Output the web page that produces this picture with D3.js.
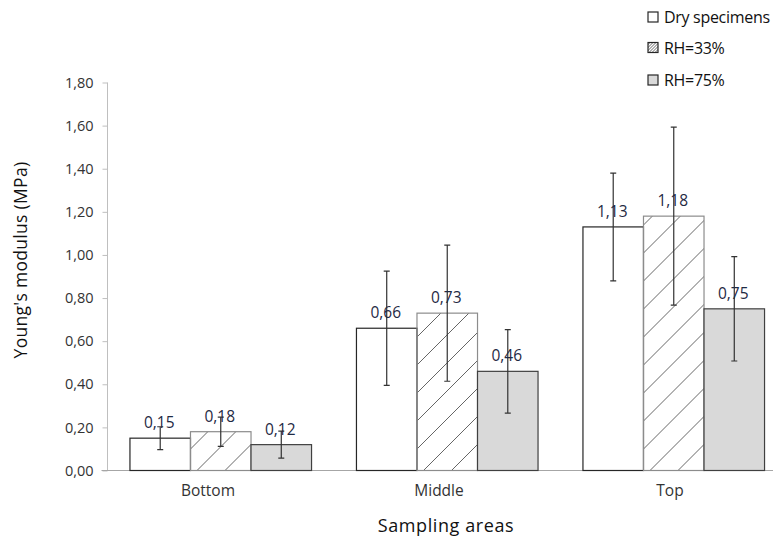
<!DOCTYPE html>
<html>
<head>
<meta charset="utf-8">
<script src="https://cdn.jsdelivr.net/npm/d3@7"></script>
<style>
  html, body { margin: 0; padding: 0; background: #fff; }
  svg { display: block; font-family: "Open Sans", "Liberation Sans", sans-serif; }
</style>
</head>
<body>
<svg id="chart" width="773" height="536"></svg>
<script>
// ---- data ----
const categories = ["Bottom", "Middle", "Top"];
const seriesNames = ["Dry specimens", "RH=33%", "RH=75%"];
const dryValues = [0.15, 0.66, 1.13];
const dryErrors = [0.053, 0.265, 0.25];
const rh33Values = [0.18, 0.73, 1.18];
const rh33Errors = [0.068, 0.316, 0.413];
const rh75Values = [0.12, 0.46, 0.75];
const rh75Errors = [0.063, 0.194, 0.242];
const yTicks = [0, 0.2, 0.4, 0.6, 0.8, 1.0, 1.2, 1.4, 1.6, 1.8];

const seriesValues = [dryValues, rh33Values, rh75Values];
const seriesErrors = [dryErrors, rh33Errors, rh75Errors];

const svg = d3.select("#chart");
const W = 773, H = 536;
const plot = { left: 107.5, right: 787, top: 82.5, bottom: 470.5 };

const fmt = v => d3.format(".2f")(v).replace(".", ",");

// patterns
const defs = svg.append("defs");
defs.append("pattern")
  .attr("id", "hatch").attr("patternUnits", "userSpaceOnUse")
  .attr("width", 28).attr("height", 28)
  .append("path")
  .attr("d", "M-7,7 L7,-7 M0,28 L28,0 M21,35 L35,21")
  .attr("stroke", "#666").attr("stroke-width", 1).attr("fill", "none");
defs.append("pattern")
  .attr("id", "hatchSmall").attr("patternUnits", "userSpaceOnUse")
  .attr("width", 3).attr("height", 3)
  .append("path")
  .attr("d", "M-1,1 L1,-1 M0,3 L3,0 M2,4 L4,2")
  .attr("stroke", "#555").attr("stroke-width", 0.9).attr("fill", "none");

const fills = ["#ffffff", "url(#hatch)", "#d9d9d9"];
const strokes = ["#262626", "#8c8c8c", "#404040"];

// scales
const y = d3.scaleLinear().domain([0, 1.8]).range([plot.bottom, plot.top]);
const x0 = d3.scaleBand().domain(categories).range([plot.left, plot.right]).padding(0);
const x1 = d3.scaleBand().domain(seriesNames).range([0, x0.bandwidth()])
  .paddingInner(0).paddingOuter(0.371);
const xLabel = d3.scaleBand().domain(categories).range([92.5, 785.5]).padding(0);

svg.append("rect").attr("width", W).attr("height", H).attr("fill", "#fff");

// y axis
const yAxis = d3.axisLeft(y).tickValues(yTicks).tickFormat(fmt).tickSize(5).tickPadding(10);
const gy = svg.append("g").attr("transform", `translate(${plot.left},0)`).call(yAxis);
gy.select(".domain").attr("stroke", "#bfbfbf").attr("d", `M0,${plot.top}V${plot.bottom}`);
gy.selectAll(".tick line").attr("stroke", "#bfbfbf");
gy.selectAll(".tick text").attr("fill", "#333").style("font-size", "14.5px")
  .style("font-family", "'Open Sans', sans-serif").attr("dx", "1");

// x axis line
svg.append("line").attr("x1", 101.5).attr("x2", W).attr("y1", plot.bottom).attr("y2", plot.bottom)
  .attr("stroke", "#a6a6a6");

// bars
const groups = svg.append("g").selectAll("g").data(categories).join("g")
  .attr("transform", d => `translate(${x0(d)},0)`);

seriesNames.forEach((s, si) => {
  groups.append("rect")
    .attr("x", x1(s))
    .attr("width", x1.bandwidth())
    .attr("y", (d, i) => y(seriesValues[si][i]))
    .attr("height", (d, i) => plot.bottom - y(seriesValues[si][i]))
    .attr("fill", fills[si])
    .attr("stroke", strokes[si]).attr("stroke-width", 1.2);
});

// error bars
seriesNames.forEach((s, si) => {
  const cx = x1(s) + x1.bandwidth() / 2;
  groups.each(function(d, i) {
    const g = d3.select(this);
    const v = seriesValues[si][i], e = seriesErrors[si][i];
    const yt = y(v + e), yb = y(v - e);
    g.append("path")
      .attr("d", `M${cx},${yt}V${yb}M${cx - 3},${yt}H${cx + 3}M${cx - 3},${yb}H${cx + 3}`)
      .attr("stroke", "#333").attr("stroke-width", 1.2).attr("fill", "none");
  });
});

// value labels
seriesNames.forEach((s, si) => {
  groups.append("text")
    .attr("x", x1(s) + x1.bandwidth() / 2 - 1)
    .attr("y", (d, i) => y(seriesValues[si][i]) - 10)
    .attr("text-anchor", "middle")
    .attr("fill", "#1f2a44")
    .style("font-size", "15.5px")
    .text((d, i) => fmt(seriesValues[si][i]));
});

// category labels
svg.append("g").selectAll("text").data(categories).join("text")
  .attr("x", d => xLabel(d) + xLabel.bandwidth() / 2)
  .attr("y", 496)
  .attr("text-anchor", "middle")
  .attr("fill", "#333")
  .style("font-size", "15.5px")
  .text(d => d);

// axis titles
svg.append("text")
  .attr("x", 446).attr("y", 532)
  .attr("text-anchor", "middle").attr("fill", "#111")
  .style("font-size", "18px").style("letter-spacing", "0.6px")
  .text("Sampling  areas");

svg.append("text")
  .attr("transform", "translate(27,260) rotate(-90)")
  .attr("text-anchor", "middle").attr("fill", "#111")
  .style("font-size", "17.5px").style("letter-spacing", "0.3px")
  .text("Young's modulus  (MPa)");

// legend
const legendY = [17, 47.5, 80];
const lg = svg.append("g").selectAll("g").data(seriesNames).join("g")
  .attr("transform", (d, i) => `translate(648,${legendY[i]})`);
lg.append("rect").attr("x", 0).attr("y", -5).attr("width", 10).attr("height", 10)
  .attr("fill", (d, i) => i === 1 ? "url(#hatchSmall)" : fills[i])
  .attr("stroke", "#262626").attr("stroke-width", 1.2);
lg.append("text").attr("x", 16).attr("y", 6)
  .attr("fill", "#111").style("font-size", "16px").style("letter-spacing", "-0.3px")
  .text(d => d);
</script>
</body>
</html>
